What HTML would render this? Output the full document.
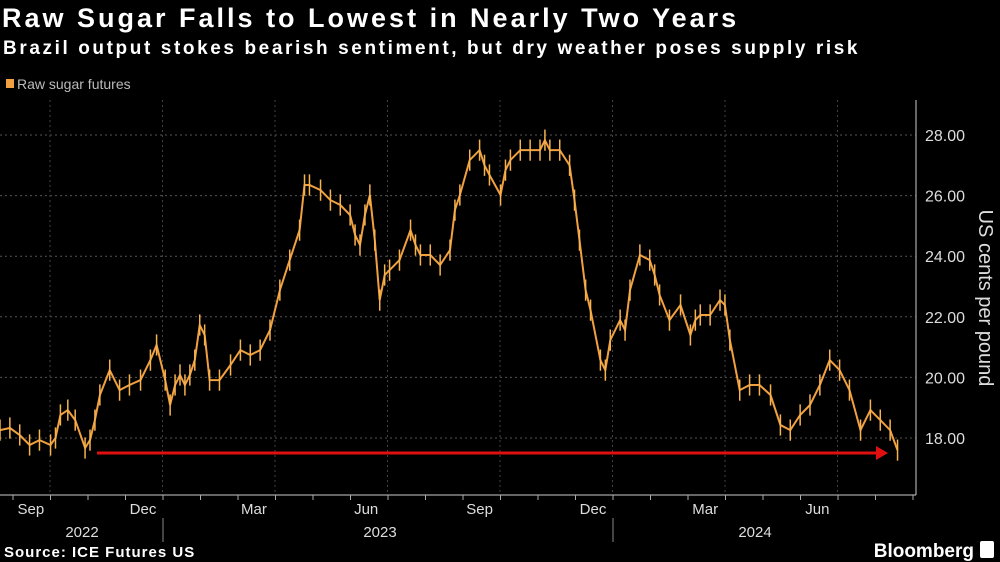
<!DOCTYPE html>
<html><head><meta charset="utf-8"><style>
body{margin:0;background:#000;width:1000px;height:562px;overflow:hidden;font-family:"Liberation Sans",sans-serif;color:#fff}
.t{position:absolute;left:2px;top:3px;font-size:27px;font-weight:bold;letter-spacing:3px}
.s{position:absolute;left:3px;top:38px;font-size:19px;font-weight:bold;letter-spacing:2.6px}
</style></head><body>
<div class="t">Raw Sugar Falls to Lowest in Nearly Two Years</div>
<div class="s">Brazil output stokes bearish sentiment, but dry weather poses supply risk</div>
<svg id="c" width="1000" height="562" style="position:absolute;left:0;top:0"></svg>
<script>
const days=[0,8,16,24,32,41,45,49,55,61,69,73,77,81,89,97,105,114,122,127,134,138,142,146,150,154,158,162,166,170,178,187,195,203,211,219,227,235,243,247,251,260,268,276,284,288,292,296,300,304,308,312,316,324,333,337,341,349,357,365,369,373,381,389,393,397,406,410,414,422,430,438,442,446,454,462,466,470,475,479,487,491,495,503,507,511,519,527,531,535,543,552,560,564,568,576,584,588,592,600,608,616,625,633,641,649,657,665,673,681,689,698,706,714,722,728];
const prices=[18.26,18.33,18.10,17.77,17.93,17.77,18.0,18.76,18.92,18.59,17.67,17.93,18.59,19.42,20.24,19.58,19.75,19.91,20.57,21.07,19.91,19.09,19.75,20.08,19.75,20.08,20.57,21.73,21.4,19.91,19.91,20.41,20.9,20.74,20.9,21.56,22.88,23.87,24.86,26.35,26.35,26.18,25.85,25.69,25.36,24.7,24.37,25.36,26.02,24.53,22.55,23.38,23.54,23.87,24.86,24.37,24.04,24.04,23.71,24.2,25.52,26.02,27.17,27.5,27.0,26.68,26.02,26.84,27.17,27.5,27.5,27.5,27.83,27.5,27.5,27.0,25.85,24.53,22.88,22.22,20.57,20.24,21.23,21.89,21.56,22.88,24.04,23.87,23.38,22.72,21.89,22.39,21.4,21.89,22.06,22.06,22.55,22.39,21.23,19.58,19.75,19.75,19.42,18.43,18.26,18.76,19.09,19.75,20.57,20.24,19.58,18.26,18.92,18.59,18.26,17.6];
const yTicks=[18,20,22,24,26,28];
const monthLabels=["Sep","Dec","Mar","Jun","Sep","Dec","Mar","Jun"];
const monthDays=[25,116,206,297,389,481,572,663];
const yearLabels=["2022","2023","2024"];
const svg=document.getElementById('c');const NS='http://www.w3.org/2000/svg';
const X=d=>d*450/365, Y=p=>438-(p-18)*30.3;
function mk(t,a,p){const e=document.createElementNS(NS,t);for(const k in a)e.setAttribute(k,a[k]);(p||svg).appendChild(e);return e;}
yTicks.forEach(v=>{const l=mk('line',{x1:0,x2:916,y1:Y(v),y2:Y(v),stroke:'#555','stroke-dasharray':'2,3','stroke-width':1});


const t=mk('text',{x:925,y:Y(v)+6,fill:'#ddd','font-size':16});t.textContent=v.toFixed(2);

});
for(let k=0;k<8;k++){const x=50+k*112.5;if(x>916)break;const l=mk('line',{x1:x,x2:x,y1:100,y2:495,stroke:'#444','stroke-dasharray':'2,3'});

}
mk('line',{x1:916,x2:916,y1:100,y2:495,stroke:'#ccc'});
mk('line',{x1:0,x2:916,y1:495,y2:495,stroke:'#ccc'});
for(let x=13;x<916;x+=37.5)mk('line',{x1:x,x2:x,y1:495,y2:500,stroke:'#aaa'});
monthLabels.forEach((m,i)=>{const t=mk('text',{x:X(monthDays[i]),y:514,fill:'#ddd','font-size':15,'text-anchor':'middle'});t.textContent=m;

});
[82,380,755].forEach((x,i)=>{const t=mk('text',{x:x,y:537,fill:'#ddd','font-size':15,'text-anchor':'middle'});t.textContent=yearLabels[i];

});
[163,613].forEach(x=>mk('line',{x1:x,x2:x,y1:518,y2:542,stroke:'#888'}));
const g=mk('g',{});


let pts=days.map((d,i)=>X(d).toFixed(1)+','+Y(prices[i]).toFixed(1)).join(' ');
mk('polyline',{points:pts,fill:'none',stroke:'#f0a040','stroke-width':2},g);
days.forEach((d,i)=>{const b=mk('line',{x1:X(d),x2:X(d),y1:Y(prices[i]+0.35),y2:Y(prices[i]-0.35),stroke:'#f6b24e','stroke-width':1.5},g);

});
mk('line',{x1:97,x2:878,y1:453,y2:453,stroke:'#e01010','stroke-width':3});
mk('polygon',{points:'876,446 888,453 876,460',fill:'#e01010'});
const at=mk('text',{x:0,y:0,fill:'#ddd','font-size':20,'text-anchor':'middle',transform:'translate(979,298) rotate(90)'});at.textContent='US cents per pound';


mk('rect',{x:6,y:79,width:8,height:9,fill:'#f0a040'});
const lt=mk('text',{x:17,y:89,fill:'#bbb','font-size':14});lt.textContent='Raw sugar futures';


const src=mk('text',{x:4,y:557,fill:'#fff','font-size':15,'font-weight':'bold','letter-spacing':1});src.textContent='Source: ICE Futures US';


const bb=mk('text',{x:974,y:557,fill:'#fff','font-size':19,'font-weight':'bold','text-anchor':'end'});bb.textContent='Bloomberg';


mk('rect',{x:980,y:541,width:14,height:17,rx:2,fill:'#fff'});
</script>
</body></html>
